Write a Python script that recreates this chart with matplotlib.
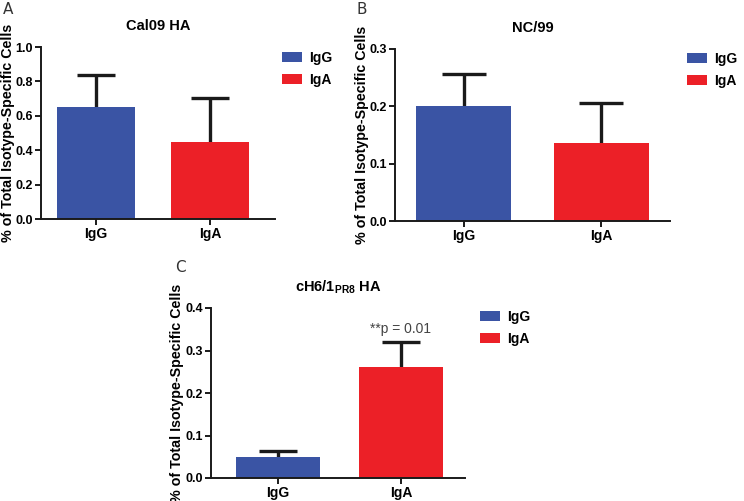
import matplotlib
matplotlib.use("Agg")
import matplotlib.pyplot as plt

plt.rcParams["font.family"] = ["Liberation Sans", "DejaVu Sans"]
plt.rcParams["mathtext.fontset"] = "custom"
plt.rcParams["mathtext.bf"] = "Liberation Sans:bold"
plt.rcParams["mathtext.rm"] = "Liberation Sans:bold"

# ── data ────────────────────────────────────────────
isotypes = ["IgG", "IgA"]
cal09_mean = [0.65, 0.45]
cal09_sem = [0.185, 0.255]
nc99_mean = [0.200, 0.136]
nc99_sem = [0.057, 0.069]
ch61_mean = [0.050, 0.261]
ch61_sem = [0.014, 0.060]

C_BLUE = "#3a54a4"
C_RED = "#ec2027"
W, H = 744, 501

fig = plt.figure(figsize=(W / 100, H / 100), dpi=100, facecolor="white")


def px_axes(x0, y_top, x1, y_bot):
    return fig.add_axes([x0 / W, 1 - y_bot / H, (x1 - x0) / W, (y_bot - y_top) / H])


def panel(ax, means, sems, title, ylim, yticks, xlim, width, capsize,
          leg_xy, label_x, letter, letter_xy):
    bars = ax.bar([0, 1], means, width=width, color=[C_BLUE, C_RED],
                  edgecolor="none", zorder=3)
    # symmetric bars drawn underneath, so only the upper half shows
    ax.errorbar([0, 1], means, yerr=sems, fmt="none", ecolor="#1a1a1a",
                elinewidth=2.4, capsize=capsize, capthick=2.4, zorder=2)
    ax.set_xlim(*xlim)
    ax.set_ylim(*ylim)
    ax.set_yticks(yticks)
    ax.set_yticklabels([f"{t:.1f}" for t in yticks], fontweight="bold", fontsize=9)
    ax.set_xticks([0, 1])
    ax.set_xticklabels(isotypes, fontweight="bold", fontsize=10)
    for s in ["top", "right"]:
        ax.spines[s].set_visible(False)
    for s in ["left", "bottom"]:
        ax.spines[s].set_linewidth(1.4)
        ax.spines[s].set_color("#1a1a1a")
        ax.spines[s].set_zorder(4)
    ax.tick_params(width=1.4, length=4, color="#1a1a1a", pad=2)
    ax.set_ylabel("% of Total Isotype-Specific Cells", fontweight="bold",
                  fontsize=10.3, va="center")
    x0 = ax.get_position().x0 * W
    ax.yaxis.set_label_coords((label_x - x0) / (ax.get_position().width * W), 0.5)
    ax.set_title(title, fontweight="bold", fontsize=10.5, pad=12)
    ax.legend(bars, isotypes, loc="upper left", bbox_to_anchor=(leg_xy[0] / W, 1 - leg_xy[1] / H),
              bbox_transform=fig.transFigure, frameon=False,
              prop={"weight": "bold", "size": 10},
              handlelength=1.45, handleheight=0.75, handletextpad=0.5,
              labelspacing=0.55, borderpad=0, borderaxespad=0)
    fig.text(letter_xy[0] / W, 1 - letter_xy[1] / H, letter, fontsize=11,
             family="DejaVu Sans", color="#333333", ha="left", va="center")
    return ax


axA = px_axes(41, 47, 275, 219)
panel(axA, cal09_mean, cal09_sem, "Cal09 HA", (0, 1.0), [0.0, 0.2, 0.4, 0.6, 0.8, 1.0],
      (-0.48, 1.57), 0.68, 13.5, (282, 51), 8, "A", (3, 9))

axB = px_axes(395, 49, 670, 221)
panel(axB, nc99_mean, nc99_sem, "NC/99", (0, 0.3), [0.0, 0.1, 0.2, 0.3],
      (-0.5, 1.5), 0.69, 16, (687, 52), 362, "B", (357, 9))

axC = px_axes(211, 308, 465, 478)
panel(axC, ch61_mean, ch61_sem, r"cH6/1$_{\mathbf{PR8}}$ HA", (0, 0.4),
      [0.0, 0.1, 0.2, 0.3, 0.4], (-0.54, 1.52), 0.68, 14, (480, 310), 177, "C", (175, 268))
axC.text(1, ch61_mean[1] + ch61_sem[1] + 0.012, "**p = 0.01", ha="center", va="bottom",
         fontsize=10, color="#444444")

fig.savefig("out.png", dpi=100, facecolor="white")
